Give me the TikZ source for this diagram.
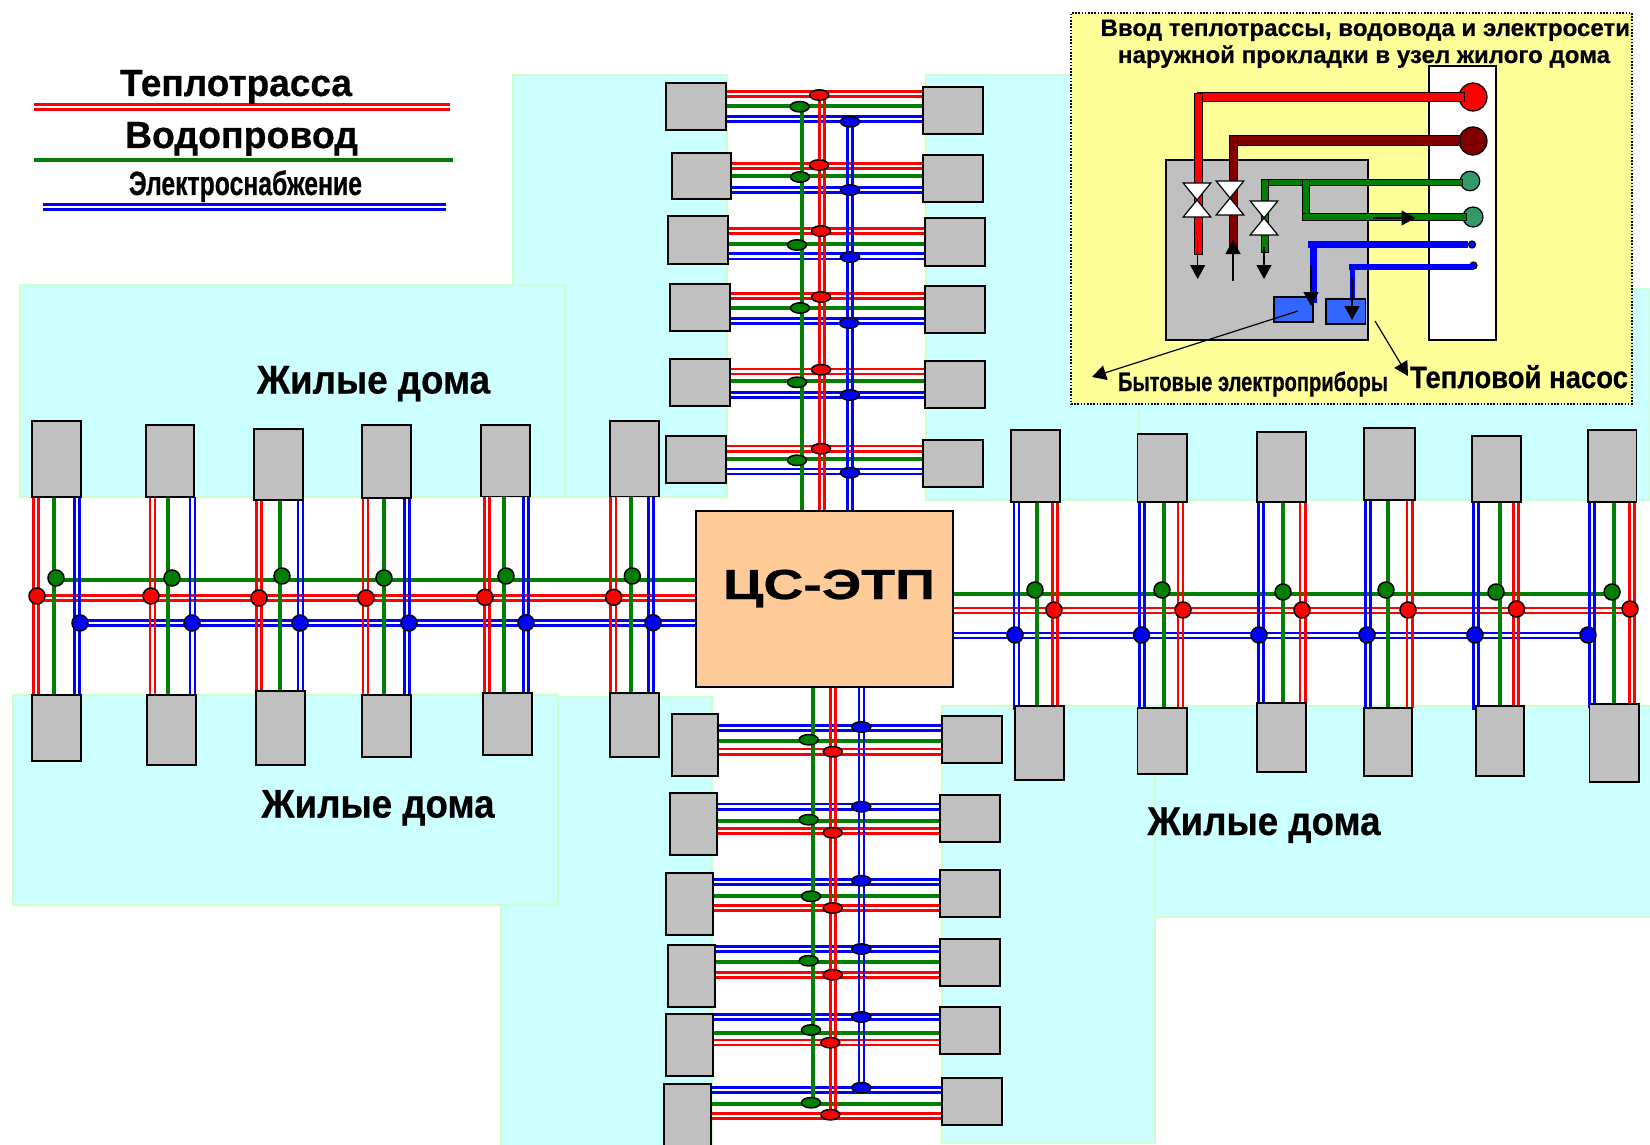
\documentclass[tikz,border=0pt]{standalone}
\usepackage{fontspec}
\setmainfont{Liberation Sans}[BoldFeatures={FakeBold=0.6}]
\usetikzlibrary{shapes.geometric,arrows.meta}
\pgfdeclarelayer{bg}\pgfdeclarelayer{pipes}\pgfdeclarelayer{top}
\pgfsetlayers{bg,pipes,main,top}
\definecolor{cyanbg}{HTML}{CCFFFF}\definecolor{cyanedge}{HTML}{CCFFCC}
\definecolor{boxgray}{HTML}{C0C0C0}\definecolor{peach}{HTML}{FFCC99}
\definecolor{panel}{HTML}{FFFF99}\definecolor{pipered}{HTML}{FF0000}
\definecolor{pipegreen}{HTML}{008000}\definecolor{pipeblue}{HTML}{0000FF}
\definecolor{darkred}{HTML}{800000}\definecolor{seagreen}{HTML}{339966}
\definecolor{elblue}{HTML}{3366FF}
\tikzset{
  x=0.5pt,y=-0.5pt,
  rectbase/.style={rectangle,inner sep=0pt,outer sep=0pt},
  zone/.style={rectbase,fill=cyanbg,draw=cyanedge,line width=0.6pt},
  house/.style={rectbase,fill=boxgray,draw=black,line width=0.85pt},
  heat/.style={draw=pipered,line width=1.35pt},
  water/.style={draw=pipegreen,line width=1.9pt},
  power/.style={draw=pipeblue,line width=1.35pt},
  rd/.style={circle,inner sep=0pt,outer sep=0pt,minimum size=8pt,draw=black,line width=0.75pt,fill=#1},
  el/.style={ellipse,inner sep=0pt,outer sep=0pt,minimum width=9.5pt,minimum height=5.2pt,draw=black,line width=0.75pt,fill=#1},
  panelbox/.style={rectbase,fill=panel,draw=black,line width=0.8pt,dash pattern=on 0.8pt off 0.8pt},
  pipeout/.style={rectbase,fill=#1,draw=black,line width=0.5pt},
  pipeplain/.style={rectbase,fill=#1},
  ball/.style={circle,inner sep=0pt,outer sep=0pt,draw=black,line width=0.6pt,fill=#1},
  arr/.style={draw=black,line width=0.6pt,-{Triangle[length=7pt,width=7.5pt]}},
  lbl/.style={inner sep=0pt,outer sep=0pt,anchor=base,font=\bfseries},
}
\newcommand\bx[6]{\node[#1,minimum width={(#5-#3)*0.5pt},minimum height={(#6-#4)*0.5pt}] (#2) at ({(#3+#5)/2},{(#4+#6)/2}) {};}
\newcommand\vp[4]{\draw[#1] (#2,0 |- #3) -- (#2,0 |- #4);}
\newcommand\hp[4]{\draw[#1] (#3 |- 0,#2) -- (#4 |- 0,#2);}
\newcommand\vpp[4]{\pgfmathsetmacro\pa{#2-2.6}\pgfmathsetmacro\pb{#2+2.6}\vp{#1}{\pa}{#3}{#4}\vp{#1}{\pb}{#3}{#4}}
\newcommand\hpp[4]{\pgfmathsetmacro\pa{#2-2.6}\pgfmathsetmacro\pb{#2+2.6}\hp{#1}{\pa}{#3}{#4}\hp{#1}{\pb}{#3}{#4}}
\newcommand\rowp[5]{\hpp{heat}{#3}{#1.east}{#2.west}\hp{water}{#4}{#1.east}{#2.west}\hpp{power}{#5}{#1.east}{#2.west}}
\newcommand\colp[5]{\vpp{heat}{#3}{#1.south}{#2.north}\vp{water}{#4}{#1.south}{#2.north}\vpp{power}{#5}{#1.south}{#2.north}}
\newcommand\colr[5]{\coordinate (#2x) at ([yshift=-2pt]#2.north);\vpp{heat}{#5}{#1.south}{#2.north}\vp{water}{#4}{#1.south}{#2.north}\vpp{power}{#3}{#1.south}{#2x}}
\newcommand\valve[3]{\draw[fill=white,draw=black,line width=0.6pt] (#2-13.8,#3-17) -- (#2+13.8,#3-17) -- (#2,#3) -- cycle;\draw[fill=white,draw=black,line width=0.6pt] (#2-13.8,#3+17) -- (#2+13.8,#3+17) -- (#2,#3) -- cycle;}
\newcommand\txt[6]{\node[lbl] (#1) at ({#2},{#3+1}) {\fontsize{#4}{#4}\selectfont\resizebox{#5}{\height}{#6}};}
\begin{document}
\begin{tikzpicture}
\path[use as bounding box] (0,0) rectangle (1650,1145);
\begin{pgfonlayer}{bg}
\fill[white] (0,0) rectangle (1650,1145);
\bx{zone}{zcl}{513}{75}{727}{497}
\bx{zone}{ztl}{20}{285}{565}{497}
\bx{zone}{zcr}{926}{75}{1139}{500}
\bx{zone}{ztr}{1139}{289}{1650}{500}
\bx{zone}{zbc}{501}{697}{712}{1160}
\bx{zone}{zbl}{13}{695}{558}{905}
\bx{zone}{zbr}{942}{706}{1155}{1143}
\bx{zone}{zrr}{1155}{706}{1660}{917}
\end{pgfonlayer}
% centre
\bx{house,fill=peach}{cs}{696}{511}{953}{687}
\txt{cstext}{829}{598}{21pt}{106pt}{ЦС-ЭТП}
% left group houses
\bx{house}{la1}{32}{421}{81}{497}
\bx{house}{la2}{146}{425}{194}{497}
\bx{house}{la3}{254}{429}{303}{500}
\bx{house}{la4}{362}{425}{411}{498}
\bx{house}{la5}{481}{425}{530}{496.5}
\bx{house}{la6}{610}{421}{659}{496.5}
\bx{house}{lb1}{32}{695}{81}{761}
\bx{house}{lb2}{147}{695}{196}{765}
\bx{house}{lb3}{256}{691}{305}{765}
\bx{house}{lb4}{362}{695}{411}{757}
\bx{house}{lb5}{483}{693}{532}{755}
\bx{house}{lb6}{610}{693}{659}{757}
% right group houses
\bx{house}{ra1}{1011}{430}{1060}{502}
\bx{house}{ra2}{1137.5}{434}{1187}{502}
\bx{house}{ra3}{1257}{432}{1306}{502}
\bx{house}{ra4}{1364}{428}{1415}{500}
\bx{house}{ra5}{1472}{436}{1521}{502}
\bx{house}{ra6}{1588}{430}{1636.5}{502}
\bx{house}{rb1}{1015}{706}{1064}{780}
\bx{house}{rb2}{1137.5}{708}{1187}{774}
\bx{house}{rb3}{1257}{703}{1306}{772}
\bx{house}{rb4}{1364}{708}{1412}{776}
\bx{house}{rb5}{1476}{706}{1524}{776}
\bx{house}{rb6}{1589.5}{704}{1639}{782}
% top group houses
\bx{house}{tl1}{666}{83}{726}{130}
\bx{house}{tl2}{672}{153}{731}{199}
\bx{house}{tl3}{668}{216}{728}{264}
\bx{house}{tl4}{670}{284}{730}{331}
\bx{house}{tl5}{670}{359}{730}{406}
\bx{house}{tl6}{666}{436}{726}{483}
\bx{house}{tr1}{923}{87}{983}{134}
\bx{house}{tr2}{923}{155}{983}{202}
\bx{house}{tr3}{925}{218}{985}{266}
\bx{house}{tr4}{925}{286}{985}{333}
\bx{house}{tr5}{925}{361}{985}{408}
\bx{house}{tr6}{923}{440}{983}{487}
% bottom group houses
\bx{house}{bl1}{672}{714}{718}{776}
\bx{house}{bl2}{670}{793}{717}{855}
\bx{house}{bl3}{666}{873}{713}{935}
\bx{house}{bl4}{668}{945}{715}{1007}
\bx{house}{bl5}{666}{1014}{713}{1076}
\bx{house}{bl6}{664}{1084}{711}{1165}
\bx{house}{br1}{942}{716}{1002}{763}
\bx{house}{br2}{940}{795}{1000}{842}
\bx{house}{br3}{940}{870}{1000}{917}
\bx{house}{br4}{940}{939}{1000}{986}
\bx{house}{br5}{940}{1007}{1000}{1054}
\bx{house}{br6}{942}{1078}{1002}{1125}
% junctions
\begin{pgfonlayer}{top}
\foreach \n/\x/\y in {lg1/56/578,lg2/172/578,lg3/282/576,lg4/384/578,lg5/506/576,lg6/632.3/576,
  rg1/1035/590,rg2/1162/590,rg3/1283/592,rg4/1386/590,rg5/1496/592,rg6/1612/592}
  \node[rd=pipegreen] (\n) at (\x,\y) {};
\foreach \n/\x/\y in {lr1/37/596,lr2/151/596,lr3/259/598,lr4/366/598,lr5/485/597.3,lr6/613.7/597.3,
  rr1/1054/610,rr2/1183/610,rr3/1302/610,rr4/1408/610,rr5/1516.5/609,rr6/1630/609}
  \node[rd=pipered] (\n) at (\x,\y) {};
\foreach \n/\x/\y in {lp1/80/623,lp2/192/623,lp3/300/623,lp4/409/623,lp5/526/622.7,lp6/653/622.7,
  rp1/1015/635,rp2/1141.5/635,rp3/1259/635,rp4/1367/635,rp5/1475/635,rp6/1588/635}
  \node[rd=pipeblue] (\n) at (\x,\y) {};
\foreach \n/\x/\y in {tr1e/819.3/95,tr2e/819/165,tr3e/821/231,tr4e/821/297,tr5e/821/369.7,tr6e/821/448.7,
  br1e/832.7/751.7,br2e/832.7/832.7,br3e/832.7/908,br4e/832.7/974.7,br5e/830.3/1042.7,br6e/830.3/1114.7}
  \node[el=pipered] (\n) at (\x,\y) {};
\foreach \n/\x/\y in {tg1e/799.7/106.7,tg2e/800/177,tg3e/797/245,tg4e/800/308,tg5e/797/382.3,tg6e/797/460.3,
  bg1e/808.7/739.7,bg2e/808.7/819.7,bg3e/811/896.3,bg4e/808.7/960.7,bg5e/811/1030,bg6e/811/1102.7}
  \node[el=pipegreen] (\n) at (\x,\y) {};
\foreach \n/\x/\y in {tp1e/850/121.7,tp2e/850/190,tp3e/850/257,tp4e/849/323,tp5e/850/395,tp6e/850/472.7,
  bp1e/861.3/727,bp2e/861.3/806.7,bp3e/861.3/880.7,bp4e/861.3/949,bp5e/861.3/1017,bp6e/861.3/1087.7}
  \node[el=pipeblue] (\n) at (\x,\y) {};
\end{pgfonlayer}
\begin{pgfonlayer}{pipes}
% main horizontal lines
\hp{water}{580.3}{lg1.center}{cs.west}
\hpp{heat}{598}{lr1.center}{cs.west}
\hpp{power}{623}{lp1.center}{cs.west}
\hp{water}{594}{cs.east}{rg6.center}
\coordinate (rstart) at (950,610);
\hpp{heat}{610.5}{rstart}{rr6.center}
\hpp{power}{635.5}{cs.east}{rp6.center}
% left columns
\colp{la1}{lb1}{36}{54}{77}
\colp{la2}{lb2}{152.5}{168}{192.5}
\colp{la3}{lb3}{259}{280}{300.5}
\colp{la4}{lb4}{365.5}{384}{407}
\colp{la5}{lb5}{487}{503.7}{526}
\colp{la6}{lb6}{613.3}{630.7}{651}
% right columns
\colr{ra1}{rb1}{1016.5}{1037}{1055}
\colr{ra2}{rb2}{1142}{1164}{1180.5}
\colr{ra3}{rb3}{1261}{1283}{1302.7}
\colr{ra4}{rb4}{1368}{1388}{1409.7}
\colr{ra5}{rb5}{1476}{1500}{1516}
\colr{ra6}{rb6}{1592}{1614}{1632}
% top rows
\rowp{tl1}{tr1}{94.2}{105.7}{119.2}
\rowp{tl2}{tr2}{165.8}{175.7}{190.2}
\rowp{tl3}{tr3}{230.8}{244.3}{256.3}
\rowp{tl4}{tr4}{296}{308.3}{320.8}
\rowp{tl5}{tr5}{371.5}{381.3}{395}
\rowp{tl6}{tr6}{448.7}{459.3}{471.5}
\vp{water}{802}{tg1e.center}{cs.north}
\vpp{heat}{821.8}{tr1e.center}{cs.north}
\vpp{power}{849.8}{tp1e.center}{cs.north}
% bottom rows
\rowp{bl1}{br1}{751.7}{741}{728}
\rowp{bl2}{br2}{831.2}{821}{806.7}
\rowp{bl3}{br3}{908.2}{896.3}{881.8}
\rowp{bl4}{br4}{975.2}{961.7}{949}
\rowp{bl5}{br5}{1042.5}{1032.7}{1017}
\rowp{bl6}{br6}{1115.8}{1104}{1090}
\vp{water}{813}{cs.south}{bg6e.center}
\vpp{heat}{833}{cs.south}{br6e.center}
\vpp{power}{861.5}{cs.south}{bp6e.center}
\end{pgfonlayer}
% legend
\coordinate (lega) at (34,107.2);\coordinate (legb) at (450,107.2);
\coordinate (legc) at (34,160);\coordinate (legd) at (453,160);
\coordinate (lege) at (43,207);\coordinate (legf) at (446,207);
\hpp{heat}{107.2}{lega}{legb}
\hp{water}{160}{legc}{legd}
\hpp{power}{207}{lege}{legf}
\txt{t1}{236}{95}{18.9pt}{116pt}{Теплотрасса}
\txt{t2}{241.5}{147}{18.9pt}{116.5pt}{Водопровод}
\txt{t3}{245.5}{194}{16.8pt}{116.5pt}{Электроснабжение}
% zone titles
\txt{z1}{373.5}{392.5}{20pt}{116.5pt}{Жилые дома}
\txt{z2}{378}{816.6}{20pt}{116.5pt}{Жилые дома}
\txt{z3}{1264}{834}{20pt}{116.5pt}{Жилые дома}
% inset
\begin{pgfonlayer}{top}
\bx{panelbox}{inset}{1071}{13}{1632}{404}
\bx{rectbase,fill=white,draw=black,line width=0.6pt}{wall}{1429}{66}{1496}{340}
\bx{rectbase,fill=boxgray,draw=black,line width=0.6pt}{room}{1166}{160}{1368}{340}
\node[ball=pipered,minimum size=28pt*0.5] (c1) at (1473,97) {};
\node[ball=darkred,minimum size=28pt*0.5] (c2) at (1473,141) {};
\node[ball=seagreen,minimum size=19.5pt*0.5] (c3) at (1470,181) {};
\node[ball=seagreen,minimum size=20pt*0.5] (c4) at (1473,217) {};
\node[ball=pipeblue,minimum size=7pt*0.5] (c5) at (1472,244.5) {};
\node[ball=pipeblue,minimum size=7pt*0.5] (c6) at (1473.5,265.5) {};
\bx{pipeout=pipered}{p1h}{1197}{92.7}{1464}{101.7}
\bx{pipeout=pipered}{p1v}{1194}{94}{1202}{254}
\bx{pipeout=darkred}{p2h}{1229}{136}{1460}{145.5}
\bx{pipeout=darkred}{p2v}{1229.3}{136}{1237}{250}
\bx{pipeout=pipegreen}{p3h}{1261}{179.3}{1462.5}{185.5}
\bx{pipeout=pipegreen}{p3v}{1261}{180}{1268}{252}
\bx{pipeout=pipegreen}{p4v}{1302.7}{180}{1309.4}{220}
\bx{pipeout=pipegreen}{p4h}{1302.7}{213.7}{1466.3}{220}
\bx{pipeplain=pipeblue}{p5h}{1308.3}{241}{1468}{248.3}
\bx{pipeplain=pipeblue}{p5v}{1309.8}{241}{1317.3}{303}
\bx{pipeplain=pipeblue}{p6h}{1349}{264.3}{1474}{270}
\bx{pipeplain=pipeblue}{p6v}{1350.4}{264.3}{1355.3}{298}
\valve{v1}{1197}{200}
\valve{v2}{1230}{198}
\valve{v3}{1264}{218}
\bx{pipeout=elblue,line width=0.7pt}{dev1}{1274}{297}{1313}{322}
\bx{pipeout=elblue,line width=0.7pt}{dev2}{1326}{299}{1365.5}{324}
\coordinate (a1) at (1197.7,238);\coordinate (a1e) at (1197.7,279);
\coordinate (a2) at (1233,281);\coordinate (a2e) at (1233,240);
\coordinate (a3) at (1264,247);\coordinate (a3e) at (1264,279);
\coordinate (a4) at (1373,218);\coordinate (a4e) at (1415.5,218);
\coordinate (a5) at (1311,265);\coordinate (a5e) at (1311,306);
\coordinate (a6) at (1352,277);\coordinate (a6e) at (1352,320);
\coordinate (a7) at (1298,311);\coordinate (a7e) at (1092,377);
\coordinate (a8) at (1375,321);\coordinate (a8e) at (1408,376);
\foreach \i in {1,...,8} \draw[arr] (a\i) -- (a\i e);
\txt{p1}{1365.3}{35}{11.9pt}{264.7pt}{Ввод теплотрассы, водовода и электросети}
\txt{p2}{1364}{62}{11.9pt}{246pt}{наружной прокладки в узел жилого дома}
\txt{p3}{1253}{390}{13.3pt}{135pt}{Бытовые электроприборы}
\txt{p4}{1519}{387}{15.4pt}{109pt}{Тепловой насос}
\end{pgfonlayer}
\end{tikzpicture}
\end{document}
